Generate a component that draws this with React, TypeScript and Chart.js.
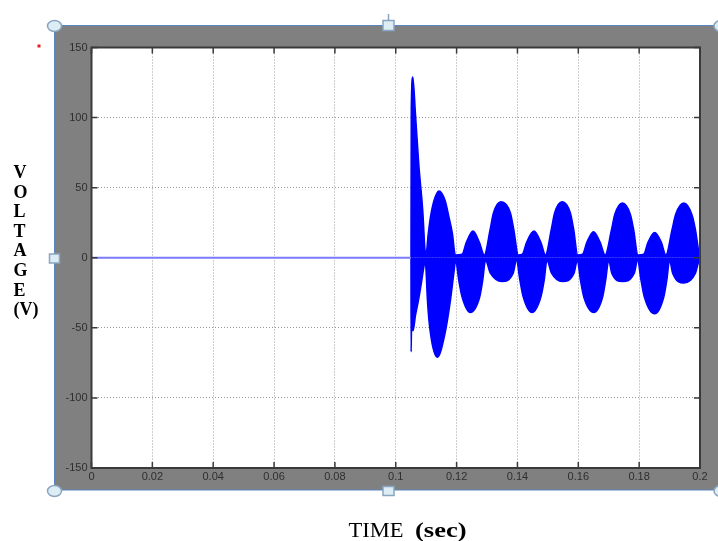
import React, { useEffect, useRef } from "react";
import { Chart, registerables } from "chart.js";

Chart.register(...registerables);

// ---------- data ----------
const xTickValues = [0, 0.02, 0.04, 0.06, 0.08, 0.1, 0.12, 0.14, 0.16, 0.18, 0.2];
const xTickLabels = ["0", "0.02", "0.04", "0.06", "0.08", "0.1", "0.12", "0.14", "0.16", "0.18", "0.2"];
const yTickValues = [-150, -100, -50, 0, 50, 100, 150];
const yTickLabels = ["-150", "-100", "-50", "0", "50", "100", "150"];

// flat signal before the fault
const baselineTime = [0, 0.105];
const baselineVolt = [0, 0];

// upper envelope of the high-frequency voltage after the fault
const upperTime = [
  0.105, 0.1051, 0.1056, 0.1065, 0.1076, 0.1089, 0.1096, 0.1099,
  0.1107, 0.1114, 0.1126, 0.1142, 0.1162, 0.1175, 0.1186, 0.1196,
  0.1218, 0.1232, 0.1254, 0.1275, 0.1291,
  0.131, 0.1321, 0.1346, 0.1377, 0.1388, 0.1403,
  0.1416, 0.143, 0.1454, 0.1477, 0.1492,
  0.1511, 0.1522, 0.1547, 0.1574, 0.1585, 0.1598,
  0.1614, 0.1628, 0.165, 0.1672, 0.1688,
  0.1709, 0.172, 0.1745, 0.1771, 0.1782, 0.1796,
  0.1815, 0.1829, 0.1851, 0.1873, 0.1888,
  0.1908, 0.192, 0.1947, 0.1973, 0.1985, 0.1998, 0.2,
];
const upperVolt = [
  0, 107, 129, 102, 66, 33, 6, 2,
  17.6, 29, 41, 47.6, 41, 29, 17.6, 2,
  2.5, 11, 19, 11, 2,
  20, 32, 40, 32, 20, 2,
  2.5, 11, 19, 11, 2,
  20, 32, 40, 32, 20, 2,
  2.5, 11, 18.6, 11, 2,
  20, 31, 39, 31, 20, 2,
  2.5, 11, 18, 11, 2,
  20, 31, 39, 31, 20, 2, 1,
];

// lower envelope
const lowerTime = [
  0.105, 0.10505, 0.1052, 0.1057, 0.1065, 0.1075, 0.1085, 0.1093, 0.1097,
  0.11, 0.1104, 0.1114, 0.1137, 0.1162, 0.118, 0.1191, 0.1197,
  0.1207, 0.1218, 0.1245, 0.1276, 0.1286, 0.1295,
  0.1311, 0.1349, 0.1386, 0.1397,
  0.1408, 0.1419, 0.1448, 0.1477, 0.1488, 0.1497,
  0.1512, 0.1548, 0.1586, 0.1597,
  0.1607, 0.1618, 0.1651, 0.168, 0.169, 0.17,
  0.171, 0.1745, 0.1784, 0.1795,
  0.1806, 0.1817, 0.1851, 0.1881, 0.1891, 0.19,
  0.191, 0.1947, 0.1985, 0.1997, 0.2,
];
const lowerVolt = [
  0, -67, -50, -52, -41, -30, -17, -6, -2,
  -11, -30, -54, -71, -54, -30, -11, -2,
  -16, -28, -39, -28, -16, -2,
  -11, -17, -11, -2,
  -16, -28, -39, -28, -16, -2,
  -11, -17, -11, -2,
  -16, -28, -39, -28, -16, -2,
  -11, -17, -11, -2,
  -16, -28, -40, -28, -16, -2,
  -11, -18, -11, -2, -1,
];

const yAxisTitle = ["V", "O", "L", "T", "A", "G", "E", "(V)"];
const xAxisTitleMain = "TIME";
const xAxisTitleUnit = "(sec)";

// ---------- drawing helpers ----------
const toPoints = (xs: number[], ys: number[]) => xs.map((x, i) => ({ x, y: ys[i] }));

function drawStretched(ctx: CanvasRenderingContext2D, text: string, font: string, x: number, baseline: number, width: number) {
  ctx.save();
  ctx.font = font;
  const w = ctx.measureText(text).width;
  ctx.translate(x, baseline);
  ctx.scale(width / w, 1);
  ctx.textAlign = "left";
  ctx.textBaseline = "alphabetic";
  ctx.fillText(text, 0, 0);
  ctx.restore();
}

function handleCircle(ctx: CanvasRenderingContext2D, cx: number, cy: number) {
  ctx.beginPath();
  ctx.ellipse(cx, cy, 7, 5.5, 0, 0, Math.PI * 2);
  ctx.fillStyle = "#dcedf5";
  ctx.fill();
  ctx.lineWidth = 1.5;
  ctx.strokeStyle = "#8aa5bf";
  ctx.stroke();
}

function handleSquare(ctx: CanvasRenderingContext2D, cx: number, cy: number, w: number, h: number) {
  ctx.fillStyle = "#dcedf5";
  ctx.fillRect(cx - w / 2, cy - h / 2, w, h);
  ctx.lineWidth = 1.5;
  ctx.strokeStyle = "#8aa5bf";
  ctx.strokeRect(cx - w / 2, cy - h / 2, w, h);
}

const scopePlugin = {
  id: "scopeFrame",
  beforeDraw(chart: any) {
    const { ctx, chartArea: a } = chart;
    ctx.save();
    ctx.fillStyle = "#ffffff";
    ctx.fillRect(0, 0, chart.width, chart.height);
    ctx.fillStyle = "#808080";
    ctx.fillRect(55, 25, 663, 465);
    ctx.fillStyle = "#ffffff";
    ctx.fillRect(a.left, a.top, a.right - a.left, a.bottom - a.top);
    ctx.restore();
  },
  afterDraw(chart: any) {
    const { ctx, chartArea: a } = chart;
    const xs = chart.scales.x;
    const ys = chart.scales.y;
    ctx.save();
    // plot box
    ctx.strokeStyle = "#3a3a3a";
    ctx.lineWidth = 2;
    ctx.strokeRect(a.left, a.top, a.right - a.left, a.bottom - a.top);
    // inward ticks
    ctx.lineWidth = 1.5;
    ctx.beginPath();
    xTickValues.forEach((v) => {
      const px = xs.getPixelForValue(v);
      ctx.moveTo(px, a.bottom);
      ctx.lineTo(px, a.bottom - 6);
      ctx.moveTo(px, a.top);
      ctx.lineTo(px, a.top + 6);
    });
    yTickValues.forEach((v) => {
      const py = ys.getPixelForValue(v);
      ctx.moveTo(a.left, py);
      ctx.lineTo(a.left + 6, py);
      ctx.moveTo(a.right, py);
      ctx.lineTo(a.right - 6, py);
    });
    ctx.stroke();

    // frame border
    ctx.strokeStyle = "#5a86c0";
    ctx.lineWidth = 1;
    ctx.strokeRect(54.5, 25.5, 670, 464.5);

    // selection handles
    ctx.beginPath();
    ctx.moveTo(388.5, 14);
    ctx.lineTo(388.5, 21);
    ctx.strokeStyle = "#8aa5bf";
    ctx.lineWidth = 1.5;
    ctx.stroke();
    handleCircle(ctx, 54.5, 26);
    handleCircle(ctx, 54.5, 491);
    handleCircle(ctx, 721, 26);
    handleCircle(ctx, 721, 491);
    handleSquare(ctx, 388.5, 25.5, 11, 10);
    handleSquare(ctx, 388.5, 491, 11, 9);
    handleSquare(ctx, 54.5, 258.5, 10, 9);

    // stray red dot
    ctx.fillStyle = "#e02020";
    ctx.fillRect(37.5, 44.5, 3, 3);

    // axis titles
    ctx.fillStyle = "#000000";
    ctx.font = "bold 18px 'Liberation Serif', 'Times New Roman', serif";
    ctx.textAlign = "left";
    ctx.textBaseline = "alphabetic";
    yAxisTitle.forEach((s, i) => {
      ctx.fillText(s, 13.5, 178 + i * 19.6);
    });
    drawStretched(ctx, xAxisTitleMain, "20px 'Liberation Serif', serif", 348.5, 536.5, 55);
    drawStretched(ctx, xAxisTitleUnit, "bold 20px 'Liberation Serif', serif", 415, 536.5, 51.5);
    ctx.restore();
  },
};

export default function App() {
  const ref = useRef<HTMLCanvasElement | null>(null);

  useEffect(() => {
    if (!ref.current) return;
    const tickFont = { family: "'Liberation Sans', Arial, sans-serif", size: 11 };
    const chart = new Chart(ref.current, {
      type: "line",
      data: {
        datasets: [
          {
            data: toPoints(baselineTime, baselineVolt),
            borderColor: "#7b7bff",
            borderWidth: 2,
            pointRadius: 0,
            fill: false,
          },
          {
            data: toPoints(upperTime, upperVolt),
            borderColor: "#0000ff",
            backgroundColor: "#0000ff",
            borderWidth: 1.5,
            pointRadius: 0,
            cubicInterpolationMode: "monotone",
            fill: "origin",
          },
          {
            data: toPoints(lowerTime, lowerVolt),
            borderColor: "#0000ff",
            backgroundColor: "#0000ff",
            borderWidth: 1.5,
            pointRadius: 0,
            cubicInterpolationMode: "monotone",
            fill: "origin",
          },
        ],
      },
      options: {
        animation: false,
        responsive: false,
        devicePixelRatio: 1,
        layout: { padding: { left: 0, top: 47.5, right: 18, bottom: 0 } },
        plugins: { legend: { display: false }, tooltip: { enabled: false } },
        scales: {
          x: {
            type: "linear",
            min: 0,
            max: 0.2,
            afterFit: (s: any) => {
              s.height = 73;
            },
            afterBuildTicks: (s: any) => {
              s.ticks = xTickValues.map((v) => ({ value: v }));
            },
            ticks: {
              autoSkip: false,
              maxRotation: 0,
              padding: 2,
              color: "#2e2e2e",
              font: tickFont,
              callback: (_v: any, i: number) => xTickLabels[i],
            },
            grid: { color: "#9a9a9a", lineWidth: 1, drawTicks: false },
            border: { display: false, dash: [1, 2] },
          },
          y: {
            type: "linear",
            min: -150,
            max: 150,
            afterFit: (s: any) => {
              s.width = 91.5;
            },
            afterBuildTicks: (s: any) => {
              s.ticks = yTickValues.map((v) => ({ value: v }));
            },
            ticks: {
              autoSkip: false,
              padding: 4,
              color: "#2e2e2e",
              font: tickFont,
              callback: (_v: any, i: number) => yTickLabels[i],
            },
            grid: { color: "#9a9a9a", lineWidth: 1, drawTicks: false },
            border: { display: false, dash: [1, 2] },
          },
        },
      } as any,
      plugins: [scopePlugin],
    });
    return () => chart.destroy();
  }, []);

  return (
    <div style={{ position: "absolute", left: 0, top: 0, width: 718, height: 541, background: "#fff" }}>
      <canvas ref={ref} width={718} height={541} style={{ display: "block", width: 718, height: 541 }} />
    </div>
  );
}
